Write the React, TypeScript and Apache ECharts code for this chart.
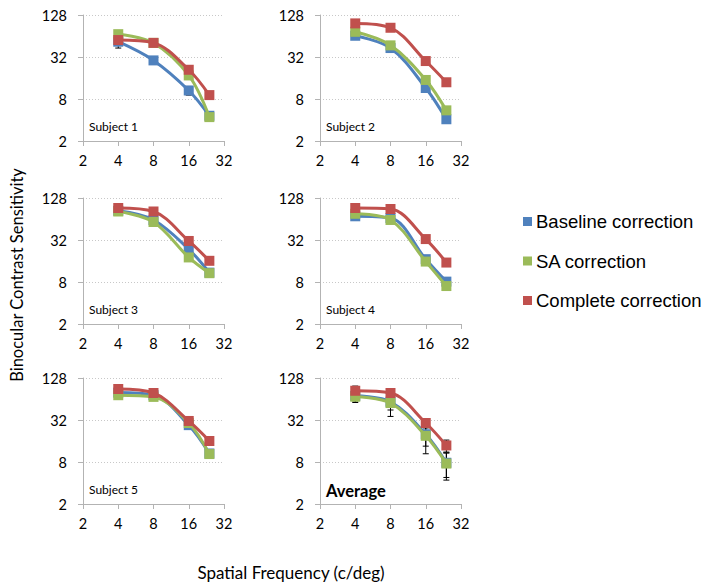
import React, { useEffect, useRef } from "react";
import * as echarts from "echarts";

const freqs = [4, 8, 16, 24];
const seriesNames = ["Baseline correction", "SA correction", "Complete correction"];
const seriesColors = ["#4F81BD", "#9BBB59", "#C0504D"];
const panelTitles = ["Subject 1", "Subject 2", "Subject 3", "Subject 4", "Subject 5", "Average"];
const xTicks = [2, 4, 8, 16, 32];
const yTicks = [2, 8, 32, 128];

const s1Baseline = [53, 28.6, 10.6, 4.6];
const s1SA = [68, 51, 17.4, 4.4];
const s1Complete = [56, 51, 21, 9.1];

const s2Baseline = [64.5, 43, 11.5, 4.1];
const s2SA = [73.5, 47, 15, 5.5];
const s2Complete = [97, 84, 28, 13.9];

const s3Baseline = [84, 62, 23.6, 10.9];
const s3SA = [82, 58, 18, 10.7];
const s3Complete = [92, 82, 31, 16.1];

const s4Baseline = [70, 66, 17, 8.1];
const s4SA = [76, 62, 15.7, 7];
const s4Complete = [92, 89, 33, 15.2];

const s5Baseline = [79, 72.5, 27, 10.6];
const s5SA = [72.5, 68.6, 29, 10.4];
const s5Complete = [89, 78, 31, 16];

const avgBaseline = [71, 58.5, 20, 7.8];
const avgSA = [69, 56, 19, 7.6];
const avgComplete = [84, 78, 29, 13.8];

// error bar half-widths
const s1BaselineErr = [10, 0, 1.5, 0];
const s2BaselineErr = [0, 4, 0, 0];
const s3BaselineErr = [0, 0, 0, 1];
const s4BaselineErr = [0, 8, 0, 0];
const avgBaselineErr = [11, 14, 6.5, 3];
const avgSAErr = [12, 20, 8.5, 3.2];
const avgCompleteErr = [14, 11, 4.4, 2.7];

const panelValues = [
  [s1Baseline, s1SA, s1Complete],
  [s2Baseline, s2SA, s2Complete],
  [s3Baseline, s3SA, s3Complete],
  [s4Baseline, s4SA, s4Complete],
  [s5Baseline, s5SA, s5Complete],
  [avgBaseline, avgSA, avgComplete],
];
const zeros = [0, 0, 0, 0];
const panelErrors = [
  [s1BaselineErr, zeros, zeros],
  [s2BaselineErr, zeros, zeros],
  [s3BaselineErr, zeros, zeros],
  [s4BaselineErr, zeros, zeros],
  [zeros, zeros, zeros],
  [avgBaselineErr, avgSAErr, avgCompleteErr],
];

const lefts = [83, 320];
const tops = [15, 198, 378];
const W = 141;
const H = 126;
const AXIS = "#b3b3b3";
const FONT = "Lato";

export default function App() {
  const ref = useRef<HTMLDivElement>(null);
  useEffect(() => {
    if (!ref.current) return;
    document.body.style.margin = "0";
    const chart = echarts.init(ref.current, undefined, { renderer: "svg" });
    const grids: any[] = [];
    const xAxes: any[] = [];
    const yAxes: any[] = [];
    const series: any[] = [];
    const graphics: any[] = [];
    for (let p = 0; p < 6; p++) {
      const left = lefts[p % 2];
      const top = tops[Math.floor(p / 2)];
      grids.push({ left, top, width: W, height: H, containLabel: false });
      xAxes.push({
        type: "log",
        logBase: 2,
        gridIndex: p,
        min: 2,
        max: 32,
        axisLine: { show: true, lineStyle: { color: AXIS, width: 1 } },
        axisTick: { show: true, length: 5, lineStyle: { color: AXIS } },
        axisLabel: {
          margin: 12,
          fontFamily: FONT,
          fontSize: 14.5,
          color: "#000",
          customValues: xTicks,
        },
        splitLine: { show: false },
        minorTick: { show: false },
      });
      yAxes.push({
        type: "log",
        logBase: 2,
        gridIndex: p,
        min: 2,
        max: 128,
        axisLine: { show: true, lineStyle: { color: AXIS, width: 1 } },
        axisTick: { show: true, length: 5, lineStyle: { color: AXIS }, customValues: yTicks },
        axisLabel: {
          margin: 16,
          fontFamily: FONT,
          fontSize: 14.5,
          color: "#000",
          customValues: yTicks,
        },
        splitLine: { show: true, lineStyle: { color: "#c8c8c8", type: [1, 2], width: 1 } },
      });
      const vals = panelValues[p];
      const errs = panelErrors[p];
      for (let s = 0; s < 3; s++) {
        const errData = freqs
          .map((f, k) => (errs[s][k] > 0 ? [f, vals[s][k] - errs[s][k], vals[s][k] + errs[s][k]] : null))
          .filter((d) => d !== null);
        if (errData.length) {
          series.push({
            type: "custom",
            name: seriesNames[s] + " error",
            xAxisIndex: p,
            yAxisIndex: p,
            z: 1,
            silent: true,
            encode: { x: 0, y: [1, 2] },
            data: errData,
            renderItem: (params: any, api: any) => {
              const x = api.value(0);
              const lo = api.coord([x, api.value(1)]);
              const hi = api.coord([x, api.value(2)]);
              const c = 3;
              const st = { stroke: "#000", lineWidth: 1 };
              return {
                type: "group",
                children: [
                  { type: "line", shape: { x1: lo[0], y1: lo[1], x2: hi[0], y2: hi[1] }, style: st },
                  { type: "line", shape: { x1: lo[0] - c, y1: lo[1], x2: lo[0] + c, y2: lo[1] }, style: st },
                  { type: "line", shape: { x1: hi[0] - c, y1: hi[1], x2: hi[0] + c, y2: hi[1] }, style: st },
                ],
              };
            },
          });
        }
        series.push({
          type: "line",
          name: seriesNames[s],
          xAxisIndex: p,
          yAxisIndex: p,
          z: 2 + s,
          smooth: 0.35,
          symbol: "rect",
          symbolSize: 10,
          showSymbol: true,
          color: seriesColors[s],
          lineStyle: { width: 3, color: seriesColors[s] },
          itemStyle: { color: seriesColors[s] },
          data: freqs.map((f, k) => [f, vals[s][k]]),
        });
      }
      const isAvg = p === 5;
      graphics.push({
        type: "text",
        left: left + 6,
        top: top + H - (isAvg ? 22 : 21),
        style: {
          text: panelTitles[p],
          fontFamily: FONT,
          fontSize: isAvg ? 16.5 : 12,
          fontWeight: isAvg ? "bold" : "normal",
          fill: "#000",
        },
      });
    }
    graphics.push({
      type: "text",
      x: 17,
      y: 275,
      rotation: Math.PI / 2,
      style: {
        text: "Binocular Contrast Sensitivity",
        fontFamily: FONT,
        fontSize: 16.5,
        fill: "#000",
        align: "center",
        verticalAlign: "middle",
      },
    });
    graphics.push({
      type: "text",
      x: 291,
      y: 572,
      style: {
        text: "Spatial Frequency (c/deg)",
        fontFamily: FONT,
        fontSize: 17,
        fill: "#000",
        align: "center",
        verticalAlign: "middle",
      },
    });
    chart.setOption({
      animation: false,
      backgroundColor: "#fff",
      grid: grids,
      xAxis: xAxes,
      yAxis: yAxes,
      series,
      graphic: graphics,
      legend: {
        data: seriesNames,
        orient: "vertical",
        left: 518,
        top: 207,
        icon: "rect",
        itemWidth: 9,
        itemHeight: 9,
        itemGap: 20.5,
        selectedMode: false,
        textStyle: { fontFamily: "Liberation Sans", fontSize: 18.5, color: "#000", padding: [0, 0, 0, -1] },
      },
    });
    return () => chart.dispose();
  }, []);
  return <div ref={ref} style={{ width: 711, height: 586 }} />;
}
